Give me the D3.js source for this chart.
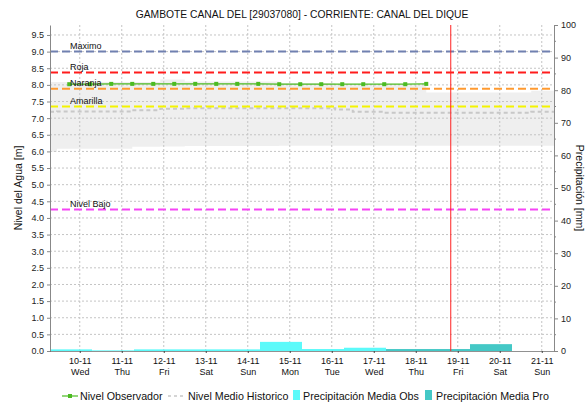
<!DOCTYPE html>
<html>
<head>
<meta charset="utf-8">
<script src="https://cdn.jsdelivr.net/npm/d3@7"></script>
<style>
body { margin: 0; background: #fff; }
text { font-family: "Liberation Sans", Arial, sans-serif; }
</style>
</head>
<body>
<div id="chart"></div>
<script>
// --- data ---
var title = "GAMBOTE CANAL DEL [29037080] - CORRIENTE: CANAL DEL DIQUE";

var obsTimes = ["09-11 18", "10-11 06", "10-11 18", "11-11 06", "11-11 18", "12-11 06",
                "12-11 18", "13-11 06", "13-11 18", "14-11 06", "14-11 18", "15-11 06",
                "15-11 18", "16-11 06", "16-11 18", "17-11 06", "17-11 18", "18-11 06"];
var obsLevel = [8.02, 8.02, 8.03, 8.03, 8.03, 8.03, 8.03, 8.03, 8.03,
                8.03, 8.02, 8.02, 8.02, 8.02, 8.02, 8.02, 8.02, 8.03];

var histTimes = ["09-11 07", "09-11 11", "11-11 06", "11-11 22", "12-11 12", "14-11 18",
                 "16-11 02", "16-11 12", "17-11 06", "18-11 06", "19-11 06", "20-11 18", "21-11 07"];
var histMax  = [8.09, 8.09, 8.09, 8.16, 8.10, 8.06, 8.00, 8.00, 8.00, 7.77, 7.77, 7.82, 7.82];
var histMean = [7.19, 7.20, 7.24, 7.28, 7.30, 7.30, 7.26, 7.19, 7.16, 7.16, 7.16, 7.19, 7.19];
var histMin  = [5.98, 6.08, 6.14, 6.15, 6.16, 6.17, 6.17, 6.17, 6.17, 6.17, 6.17, 6.17, 6.17];

var precipDays = ["09-11", "10-11", "11-11", "12-11", "13-11", "14-11",
                  "15-11", "16-11", "17-11", "18-11", "19-11", "20-11"];
var precipObs = [0.5, 0.2, 0.5, 0.5, 0.5, 2.8, 0.6, 1.0, null, null, null, null];
var precipPro = [null, null, null, null, null, null, null, null, 0.6, 0.6, 2.1, null];

var thresholdNames  = ["Maximo", "Roja", "Naranja", "Amarilla", "Nivel Bajo"];
var thresholdValues = [9.0, 8.37, 7.88, 7.35, 4.25];
var thresholdColors = ["#7080b0", "#ff1c1c", "#ff9a30", "#f4f400", "#f544f5"];

var nowTime = "18-11 20";
var tickDays = ["10-11", "11-11", "12-11", "13-11", "14-11", "15-11",
                "16-11", "17-11", "18-11", "19-11", "20-11", "21-11"];

// --- setup ---
var parseTime = d3.timeParse("%Y %d-%m %H");
function t(s) { return parseTime("2021 " + s); }

var W = 586, H = 403;
var margin = {top: 25, right: 32, bottom: 52, left: 50};
var width = W - margin.left - margin.right,
    height = H - margin.top - margin.bottom;

var x = d3.scaleTime().domain([t("09-11 07"), t("21-11 07")]).range([0, width]);
var y = d3.scaleLinear().domain([0, 9.8]).range([height, 0]);
var yR = d3.scaleLinear().domain([0, 100]).range([height, 0]);

var svg = d3.select("#chart").append("svg")
    .attr("width", W)
    .attr("height", H);

svg.append("text")
    .attr("x", margin.left + width / 2)
    .attr("y", 18)
    .attr("text-anchor", "middle")
    .style("font-size", "10.3px")
    .attr("fill", "#111")
    .text(title);

var g = svg.append("g")
    .attr("transform", "translate(" + margin.left + "," + margin.top + ")");

// historic band
var hist = histTimes.map(function(s, i) {
    return {date: t(s), max: histMax[i], mean: histMean[i], min: histMin[i]};
});
g.append("path")
    .datum(hist)
    .attr("fill", "#efefef")
    .attr("d", d3.area()
        .curve(d3.curveStepAfter)
        .x(function(d) { return x(d.date); })
        .y0(function(d) { return y(d.min); })
        .y1(function(d) { return y(d.max); }));

// grid
var yTicks = d3.range(0.5, 9.51, 0.5);
g.selectAll(".hgrid")
    .data(yTicks)
    .enter().append("line")
    .attr("x1", 0).attr("x2", width)
    .attr("y1", function(d) { return y(d); })
    .attr("y2", function(d) { return y(d); })
    .attr("stroke", "#c4c4c4")
    .attr("stroke-dasharray", "2,2");

g.selectAll(".vgrid")
    .data(tickDays)
    .enter().append("line")
    .attr("x1", function(d) { return x(t(d + " 00")); })
    .attr("x2", function(d) { return x(t(d + " 00")); })
    .attr("y1", 0).attr("y2", height)
    .attr("stroke", "#c4c4c4")
    .attr("stroke-dasharray", "2,2");

// precipitation bars
function drawBars(values, color) {
    g.selectAll(null)
        .data(precipDays.map(function(d, i) { return {day: d, v: values[i]}; })
            .filter(function(d) { return d.v != null; }))
        .enter().append("rect")
        .attr("x", function(d) { return x(t(d.day + " 07")); })
        .attr("width", function(d) { return x(d3.timeDay.offset(t(d.day + " 07"), 1)) - x(t(d.day + " 07")); })
        .attr("y", function(d) { return yR(d.v); })
        .attr("height", function(d) { return yR(0) - yR(d.v); })
        .attr("fill", color);
}
drawBars(precipObs, "#5cfafa");
drawBars(precipPro, "#44c8c6");

// historic mean
g.append("path")
    .datum(hist)
    .attr("fill", "none")
    .attr("stroke", "#c8c8c8")
    .attr("stroke-width", 2)
    .attr("stroke-dasharray", "4,3")
    .attr("d", d3.line()
        .curve(d3.curveStepAfter)
        .x(function(d) { return x(d.date); })
        .y(function(d) { return y(d.mean); }));

// thresholds
thresholdValues.forEach(function(v, i) {
    g.append("line")
        .attr("x1", 0).attr("x2", width)
        .attr("y1", y(v)).attr("y2", y(v))
        .attr("stroke", thresholdColors[i])
        .attr("stroke-width", 2)
        .attr("stroke-dasharray", "8,4");
});

// observed level
var obs = obsTimes.map(function(s, i) { return {date: t(s), v: obsLevel[i]}; });
g.append("path")
    .datum(obs)
    .attr("fill", "none")
    .attr("stroke", "#4cbb22")
    .attr("stroke-width", 1.2)
    .attr("d", d3.line()
        .x(function(d) { return x(d.date); })
        .y(function(d) { return y(d.v); }));
g.selectAll(".dot")
    .data(obs)
    .enter().append("rect")
    .attr("x", function(d) { return x(d.date) - 2; })
    .attr("y", function(d) { return y(d.v) - 2; })
    .attr("width", 4).attr("height", 4)
    .attr("fill", "#4cbb22");

// threshold labels (drawn over the lines)
thresholdValues.forEach(function(v, i) {
    g.append("text")
        .attr("x", 20)
        .attr("y", y(v) - 2.5)
        .style("font-size", "9px")
        .attr("fill", "#111")
        .text(thresholdNames[i]);
});

// current time marker
g.append("line")
    .attr("x1", x(t(nowTime))).attr("x2", x(t(nowTime)))
    .attr("y1", 0).attr("y2", height)
    .attr("stroke", "#ff2020")
    .attr("stroke-width", 1);

// axes
var left = g.append("g")
    .call(d3.axisLeft(y).tickValues(d3.range(0, 9.51, 0.5))
        .tickFormat(d3.format(".1f")).tickSize(3).tickSizeOuter(0));
var right = g.append("g")
    .attr("transform", "translate(" + width + ",0)")
    .call(d3.axisRight(yR).tickValues(d3.range(0, 101, 10)).tickSize(4).tickSizeOuter(0));
right.selectAll(".minor")
    .data(d3.range(5, 100, 10))
    .enter().append("line")
    .attr("x1", 0).attr("x2", 2)
    .attr("y1", function(d) { return yR(d); })
    .attr("y2", function(d) { return yR(d); })
    .attr("stroke", "#888");

[left, right].forEach(function(ax) {
    ax.selectAll("path, line").attr("stroke", "#888");
    ax.selectAll("text").style("font-size", "9px").attr("fill", "#222")
        .style("font-family", "'Liberation Sans', Arial, sans-serif");
});

var bottom = g.append("g")
    .attr("transform", "translate(0," + height + ")")
    .call(d3.axisBottom(x).tickValues(tickDays.map(function(d) { return t(d + " 00"); }))
        .tickFormat("").tickSize(2).tickSizeOuter(0));
bottom.select(".domain").attr("stroke", "#222").attr("stroke-dasharray", "1,1");
bottom.selectAll("line").attr("stroke", "#444");
bottom.selectAll(".tick").each(function(d) {
    var tk = d3.select(this);
    tk.append("text").attr("y", 13).text(d3.timeFormat("%d-%m")(d));
    tk.append("text").attr("y", 24).text(d3.timeFormat("%a")(d));
});
bottom.selectAll("text")
    .attr("text-anchor", "middle")
    .attr("fill", "#111")
    .style("font-size", "9px");

// axis titles
svg.append("text")
    .attr("transform", "translate(22," + (margin.top + height / 2) + ") rotate(-90)")
    .attr("text-anchor", "middle")
    .style("font-size", "10.5px")
    .attr("fill", "#111")
    .text("Nivel del Agua [m]");
svg.append("text")
    .attr("transform", "translate(576," + (margin.top + height / 2) + ") rotate(90)")
    .attr("text-anchor", "middle")
    .style("font-size", "10.5px")
    .attr("fill", "#111")
    .text("Precipitación [mm]");

// legend
var ly = 396;
var leg = svg.append("g");
leg.append("line").attr("x1", 62).attr("x2", 78).attr("y1", ly).attr("y2", ly)
    .attr("stroke", "#4cbb22").attr("stroke-width", 1.2);
leg.append("rect").attr("x", 68).attr("y", ly - 2).attr("width", 4).attr("height", 4)
    .attr("fill", "#4cbb22");
leg.append("line").attr("x1", 168).attr("x2", 184).attr("y1", ly).attr("y2", ly)
    .attr("stroke", "#c8c8c8").attr("stroke-width", 1.5).attr("stroke-dasharray", "3,3");
leg.append("rect").attr("x", 293).attr("y", ly - 6).attr("width", 7).attr("height", 10)
    .attr("fill", "#5cfafa");
leg.append("rect").attr("x", 425).attr("y", ly - 6).attr("width", 7).attr("height", 10)
    .attr("fill", "#44c8c6");
var legText = [["Nivel Observador", 80], ["Nivel Medio Historico", 188],
               ["Precipitación Media Obs", 303], ["Precipitación Media Pro", 436]];
legText.forEach(function(d) {
    leg.append("text").attr("x", d[1]).attr("y", ly + 4)
        .style("font-size", "10.7px").attr("fill", "#111").text(d[0]);
});
</script>
</body>
</html>
